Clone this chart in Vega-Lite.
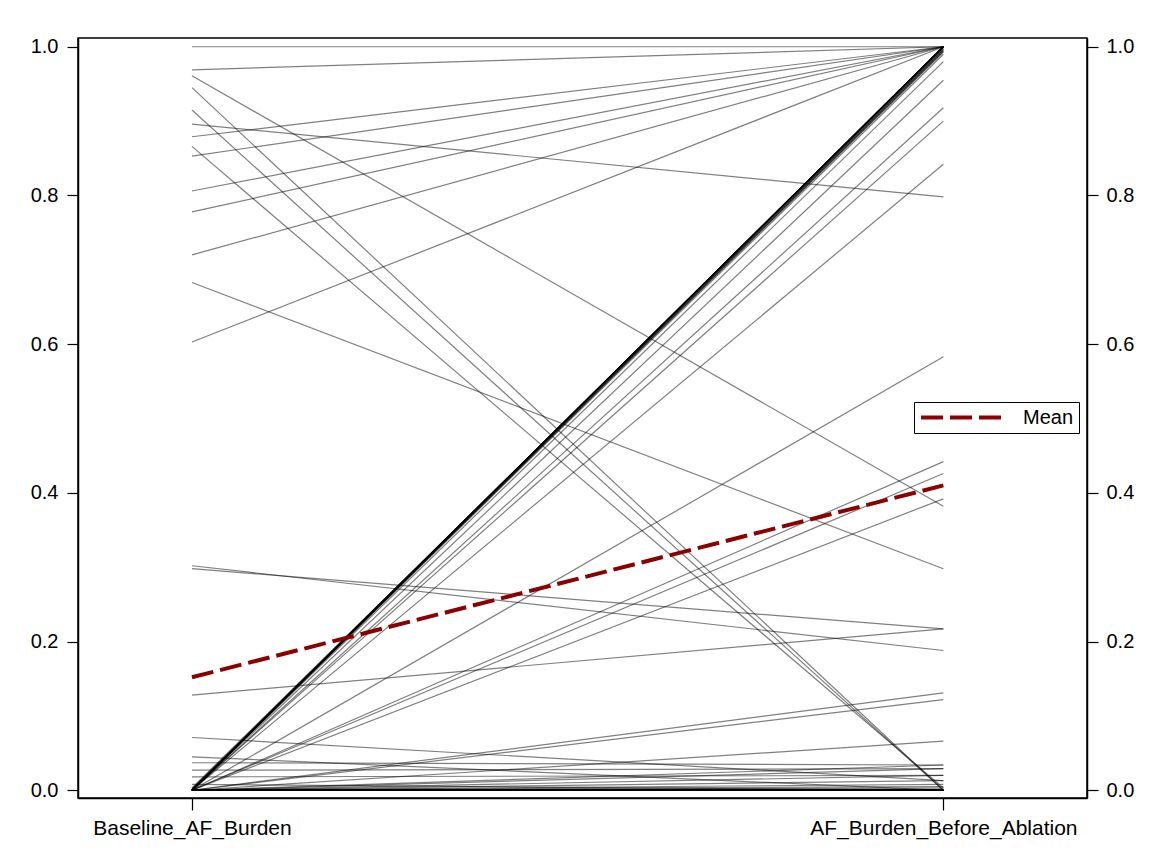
{
  "$schema": "https://vega.github.io/schema/vega-lite/v6.json",
  "autosize": {"type": "none"},
  "padding": {"left": 78, "top": 38, "right": 69, "bottom": 66},
  "width": 1009,
  "height": 760,
  "background": "white",
  "datasets": {
    "subjects": [
      {"id": 1, "Baseline_AF_Burden": 1.0, "AF_Burden_Before_Ablation": 1.0},
      {"id": 2, "Baseline_AF_Burden": 0.969, "AF_Burden_Before_Ablation": 1.0},
      {"id": 3, "Baseline_AF_Burden": 0.961, "AF_Burden_Before_Ablation": 0.382},
      {"id": 4, "Baseline_AF_Burden": 0.945, "AF_Burden_Before_Ablation": 0.0},
      {"id": 5, "Baseline_AF_Burden": 0.915, "AF_Burden_Before_Ablation": 0.0},
      {"id": 6, "Baseline_AF_Burden": 0.896, "AF_Burden_Before_Ablation": 0.798},
      {"id": 7, "Baseline_AF_Burden": 0.879, "AF_Burden_Before_Ablation": 1.0},
      {"id": 8, "Baseline_AF_Burden": 0.866, "AF_Burden_Before_Ablation": 0.003},
      {"id": 9, "Baseline_AF_Burden": 0.853, "AF_Burden_Before_Ablation": 1.0},
      {"id": 10, "Baseline_AF_Burden": 0.806, "AF_Burden_Before_Ablation": 1.0},
      {"id": 11, "Baseline_AF_Burden": 0.778, "AF_Burden_Before_Ablation": 1.0},
      {"id": 12, "Baseline_AF_Burden": 0.72, "AF_Burden_Before_Ablation": 1.0},
      {"id": 13, "Baseline_AF_Burden": 0.683, "AF_Burden_Before_Ablation": 0.298},
      {"id": 14, "Baseline_AF_Burden": 0.603, "AF_Burden_Before_Ablation": 1.0},
      {"id": 15, "Baseline_AF_Burden": 0.302, "AF_Burden_Before_Ablation": 0.188},
      {"id": 16, "Baseline_AF_Burden": 0.298, "AF_Burden_Before_Ablation": 0.217},
      {"id": 17, "Baseline_AF_Burden": 0.128, "AF_Burden_Before_Ablation": 0.217},
      {"id": 18, "Baseline_AF_Burden": 0.071, "AF_Burden_Before_Ablation": 0.013},
      {"id": 19, "Baseline_AF_Burden": 0.045, "AF_Burden_Before_Ablation": 0.0},
      {"id": 20, "Baseline_AF_Burden": 0.037, "AF_Burden_Before_Ablation": 0.034},
      {"id": 21, "Baseline_AF_Burden": 0.027, "AF_Burden_Before_Ablation": 0.029},
      {"id": 22, "Baseline_AF_Burden": 0.018, "AF_Burden_Before_Ablation": 0.02},
      {"id": 23, "Baseline_AF_Burden": 0.008, "AF_Burden_Before_Ablation": 0.0},
      {"id": 24, "Baseline_AF_Burden": 0.0, "AF_Burden_Before_Ablation": 0.99},
      {"id": 25, "Baseline_AF_Burden": 0.0, "AF_Burden_Before_Ablation": 0.98},
      {"id": 26, "Baseline_AF_Burden": 0.0, "AF_Burden_Before_Ablation": 0.955},
      {"id": 27, "Baseline_AF_Burden": 0.0, "AF_Burden_Before_Ablation": 0.918},
      {"id": 28, "Baseline_AF_Burden": 0.0, "AF_Burden_Before_Ablation": 0.9},
      {"id": 29, "Baseline_AF_Burden": 0.0, "AF_Burden_Before_Ablation": 0.842},
      {"id": 30, "Baseline_AF_Burden": 0.0, "AF_Burden_Before_Ablation": 0.583},
      {"id": 31, "Baseline_AF_Burden": 0.0, "AF_Burden_Before_Ablation": 0.442},
      {"id": 32, "Baseline_AF_Burden": 0.0, "AF_Burden_Before_Ablation": 0.426},
      {"id": 33, "Baseline_AF_Burden": 0.0, "AF_Burden_Before_Ablation": 0.392},
      {"id": 34, "Baseline_AF_Burden": 0.0, "AF_Burden_Before_Ablation": 0.131},
      {"id": 35, "Baseline_AF_Burden": 0.0, "AF_Burden_Before_Ablation": 0.122},
      {"id": 36, "Baseline_AF_Burden": 0.0, "AF_Burden_Before_Ablation": 0.066},
      {"id": 37, "Baseline_AF_Burden": 0.0, "AF_Burden_Before_Ablation": 1.0},
      {"id": 38, "Baseline_AF_Burden": 0.0, "AF_Burden_Before_Ablation": 1.0},
      {"id": 39, "Baseline_AF_Burden": 0.0, "AF_Burden_Before_Ablation": 1.0},
      {"id": 40, "Baseline_AF_Burden": 0.0, "AF_Burden_Before_Ablation": 1.0},
      {"id": 41, "Baseline_AF_Burden": 0.0, "AF_Burden_Before_Ablation": 1.0},
      {"id": 42, "Baseline_AF_Burden": 0.0, "AF_Burden_Before_Ablation": 1.0},
      {"id": 43, "Baseline_AF_Burden": 0.0, "AF_Burden_Before_Ablation": 1.0},
      {"id": 44, "Baseline_AF_Burden": 0.0, "AF_Burden_Before_Ablation": 1.0},
      {"id": 45, "Baseline_AF_Burden": 0.0, "AF_Burden_Before_Ablation": 1.0},
      {"id": 46, "Baseline_AF_Burden": 0.0, "AF_Burden_Before_Ablation": 1.0},
      {"id": 47, "Baseline_AF_Burden": 0.002, "AF_Burden_Before_Ablation": 0.998},
      {"id": 48, "Baseline_AF_Burden": 0.0, "AF_Burden_Before_Ablation": 0.997},
      {"id": 49, "Baseline_AF_Burden": 0.003, "AF_Burden_Before_Ablation": 0.996},
      {"id": 50, "Baseline_AF_Burden": 0.0, "AF_Burden_Before_Ablation": 0.995},
      {"id": 51, "Baseline_AF_Burden": 0.0, "AF_Burden_Before_Ablation": 0.993},
      {"id": 52, "Baseline_AF_Burden": 0.0, "AF_Burden_Before_Ablation": 0.994},
      {"id": 53, "Baseline_AF_Burden": 0.0, "AF_Burden_Before_Ablation": 0.034},
      {"id": 54, "Baseline_AF_Burden": 0.0, "AF_Burden_Before_Ablation": 0.029},
      {"id": 55, "Baseline_AF_Burden": 0.0, "AF_Burden_Before_Ablation": 0.02},
      {"id": 56, "Baseline_AF_Burden": 0.0, "AF_Burden_Before_Ablation": 0.013},
      {"id": 57, "Baseline_AF_Burden": 0.0, "AF_Burden_Before_Ablation": 0.008},
      {"id": 58, "Baseline_AF_Burden": 0.0, "AF_Burden_Before_Ablation": 0.005},
      {"id": 59, "Baseline_AF_Burden": 0.0, "AF_Burden_Before_Ablation": 0.003},
      {"id": 60, "Baseline_AF_Burden": 0.0, "AF_Burden_Before_Ablation": 0.0},
      {"id": 61, "Baseline_AF_Burden": 0.0, "AF_Burden_Before_Ablation": 0.0},
      {"id": 62, "Baseline_AF_Burden": 0.0, "AF_Burden_Before_Ablation": 0.0},
      {"id": 63, "Baseline_AF_Burden": 0.0, "AF_Burden_Before_Ablation": 0.0},
      {"id": 64, "Baseline_AF_Burden": 0.0, "AF_Burden_Before_Ablation": 0.0},
      {"id": 65, "Baseline_AF_Burden": 0.0, "AF_Burden_Before_Ablation": 0.0},
      {"id": 66, "Baseline_AF_Burden": 0.0, "AF_Burden_Before_Ablation": 0.0},
      {"id": 67, "Baseline_AF_Burden": 0.0, "AF_Burden_Before_Ablation": 0.0},
      {"id": 68, "Baseline_AF_Burden": 0.0, "AF_Burden_Before_Ablation": 0.0},
      {"id": 69, "Baseline_AF_Burden": 0.0, "AF_Burden_Before_Ablation": 0.0},
      {"id": 70, "Baseline_AF_Burden": 0.0, "AF_Burden_Before_Ablation": 0.0},
      {"id": 71, "Baseline_AF_Burden": 0.0, "AF_Burden_Before_Ablation": 0.0},
      {"id": 72, "Baseline_AF_Burden": 0.0, "AF_Burden_Before_Ablation": 0.0},
      {"id": 73, "Baseline_AF_Burden": 0.0, "AF_Burden_Before_Ablation": 0.0},
      {"id": 74, "Baseline_AF_Burden": 0.0, "AF_Burden_Before_Ablation": 0.0},
      {"id": 75, "Baseline_AF_Burden": 0.0, "AF_Burden_Before_Ablation": 0.0},
      {"id": 76, "Baseline_AF_Burden": 0.0, "AF_Burden_Before_Ablation": 0.0},
      {"id": 77, "Baseline_AF_Burden": 0.0, "AF_Burden_Before_Ablation": 0.0},
      {"id": 78, "Baseline_AF_Burden": 0.0, "AF_Burden_Before_Ablation": 0.0},
      {"id": 79, "Baseline_AF_Burden": 0.0, "AF_Burden_Before_Ablation": 0.0},
      {"id": 80, "Baseline_AF_Burden": 0.0, "AF_Burden_Before_Ablation": 0.0},
      {"id": 81, "Baseline_AF_Burden": 0.0, "AF_Burden_Before_Ablation": 0.0},
      {"id": 82, "Baseline_AF_Burden": 0.0, "AF_Burden_Before_Ablation": 0.0},
      {"id": 83, "Baseline_AF_Burden": 0.0, "AF_Burden_Before_Ablation": 0.0},
      {"id": 84, "Baseline_AF_Burden": 0.0, "AF_Burden_Before_Ablation": 0.0}
    ],
    "means": [
      {"series": "Mean", "Baseline_AF_Burden": 0.152, "AF_Burden_Before_Ablation": 0.41}
    ]
  },
  "layer": [
    {
      "data": {"name": "subjects"},
      "transform": [
        {"fold": ["Baseline_AF_Burden", "AF_Burden_Before_Ablation"], "as": ["measure", "burden"]}
      ],
      "mark": {"type": "line", "stroke": "#000000", "strokeOpacity": 0.5, "strokeWidth": 1.2},
      "encoding": {
        "x": {
          "field": "measure",
          "type": "nominal",
          "sort": ["Baseline_AF_Burden", "AF_Burden_Before_Ablation"],
          "scale": {"type": "point", "padding": 0.1714, "align": 0.4424},
          "axis": {"title": null, "labelAngle": 0, "tickSize": 12, "labelPadding": 7, "labelFontSize": 21, "labelLimit": 0, "grid": false}
        },
        "y": {
          "field": "burden",
          "type": "quantitative",
          "scale": {"domain": [-0.0104, 1.0118], "nice": false, "zero": false},
          "axis": {"title": null, "orient": "left", "values": [0, 0.2, 0.4, 0.6, 0.8, 1.0], "format": ".1f", "tickSize": 11, "labelPadding": 9, "grid": false}
        },
        "detail": {"field": "id", "type": "nominal"}
      }
    },
    {
      "data": {"name": "means"},
      "transform": [
        {"fold": ["Baseline_AF_Burden", "AF_Burden_Before_Ablation"], "as": ["measure", "burden"]}
      ],
      "mark": {"type": "line", "strokeWidth": 4, "strokeDash": [22, 7]},
      "encoding": {
        "x": {
          "field": "measure",
          "type": "nominal",
          "sort": ["Baseline_AF_Burden", "AF_Burden_Before_Ablation"],
          "scale": {"type": "point", "padding": 0.1714, "align": 0.4424}
        },
        "y": {
          "field": "burden",
          "type": "quantitative",
          "scale": {"domain": [-0.0104, 1.0118], "nice": false, "zero": false},
          "axis": {"title": null, "orient": "right", "values": [0, 0.2, 0.4, 0.6, 0.8, 1.0], "format": ".1f", "tickSize": 11, "labelPadding": 8, "grid": false}
        },
        "stroke": {
          "field": "series",
          "type": "nominal",
          "scale": {"domain": ["Mean"], "range": ["#8b0000"]},
          "legend": {
            "title": null,
            "orient": "none",
            "legendX": 836,
            "legendY": 364,
            "symbolType": "stroke",
            "symbolSize": 6400,
            "symbolStrokeWidth": 4,
            "symbolDash": [22, 7],
            "clipHeight": 21,
            "labelOffset": 20,
            "labelFontSize": 20,
            "labelFont": "Liberation Sans",
            "labelColor": "#000000",
            "padding": 5,
            "strokeColor": "#000000",
            "fillColor": "#ffffff"
          }
        }
      }
    }
  ],
  "resolve": {"axis": {"y": "independent"}},
  "config": {
    "view": {"stroke": "#000000", "strokeWidth": 1.5},
    "axis": {
      "labelFont": "Liberation Sans",
      "labelFontSize": 20,
      "labelColor": "#000000",
      "tickColor": "#000000",
      "domainColor": "#000000",
      "domainWidth": 1.5,
      "tickWidth": 1.2,
      "labelFlush": false,
      "labelOverlap": false
    }
  }
}
